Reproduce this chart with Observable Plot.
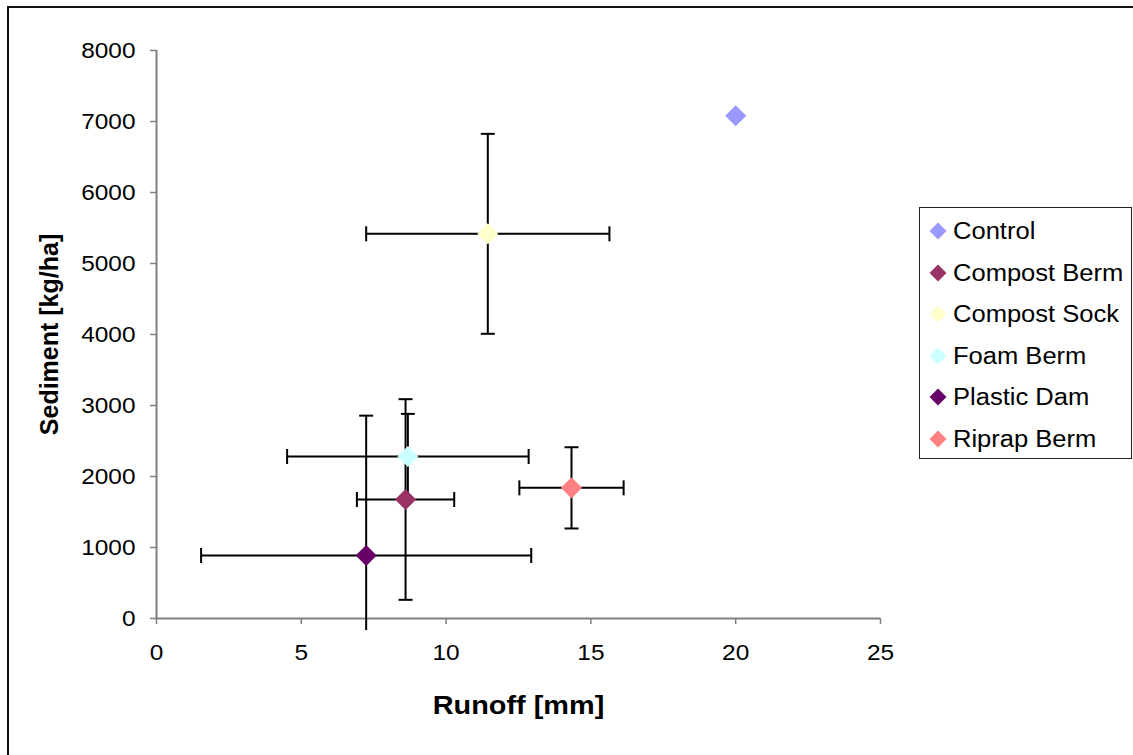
<!DOCTYPE html>
<html>
<head>
<meta charset="utf-8">
<script src="https://cdn.jsdelivr.net/npm/d3@7"></script>
<script src="https://cdn.jsdelivr.net/npm/@observablehq/plot@0.6"></script>
<style>
  html, body { margin: 0; padding: 0; background: #fff; }
  #wrap { position: relative; width: 1133px; height: 755px; overflow: hidden; font-family: "Liberation Sans", Arial, sans-serif; }
  #border { position: absolute; left: 7px; top: 6px; width: 1300px; height: 900px; border-left: 2px solid #111; border-top: 2px solid #111; }
  #chart { position: absolute; left: 0; top: 0; }
  #legend { position: absolute; left: 919px; top: 207px; width: 213px; height: 252px; border: 1px solid #222; box-sizing: border-box; background: #fff; }
  .item { position: absolute; left: 0; width: 220px; height: 30px; }
  .sw { position: absolute; left: 12px; top: 9px; width: 12px; height: 12px; transform: rotate(45deg); }
  .lbl { position: absolute; left: 33px; top: 0; line-height: 30px; font-size: 23px; color: #000; white-space: nowrap; transform: scaleX(1.11); transform-origin: left center; }
</style>
</head>
<body>
<div id="wrap">
  <div id="border"></div>
  <div id="chart"></div>
  <div id="legend"></div>
</div>
<script>
// ---- data ----
const series     = ["Control", "Compost Berm", "Compost Sock", "Foam Berm", "Plastic Dam", "Riprap Berm"];
const runoff     = [20.0, 8.6, 11.44, 8.68, 7.24, 14.33];      // mm
const sediment   = [7080, 1676, 5418, 2282, 887, 1840];        // kg/ha
const runoffErr  = [0, 1.68, 4.2, 4.17, 5.7, 1.8];             // ± mm
const sedimentErr= [0, 1413, 1408, 600, 1970, 572];            // ± kg/ha
const colors     = ["#9999FF", "#993366", "#FFFFCC", "#CCFFFF", "#660066", "#FF8080"];
const xTicks     = [0, 5, 10, 15, 20, 25];
const yTicks     = [0, 1000, 2000, 3000, 4000, 5000, 6000, 7000, 8000];
const xTitle     = "Runoff [mm]";
const yTitle     = "Sediment [kg/ha]";

const data = series.map((s, i) => ({
  series: s, x: runoff[i], y: sediment[i], ex: runoffErr[i], ey: sedimentErr[i], color: colors[i]
}));
const withErr = data.filter(d => d.ex > 0 || d.ey > 0);
const yFloor = -170; // error bars running below the axis are cut a little past it

const hCap = { draw(ctx) { ctx.moveTo(-7, 0); ctx.lineTo(7, 0); } };
const vCap = { draw(ctx) { ctx.moveTo(0, -7.5); ctx.lineTo(0, 7.5); } };

const topCaps    = withErr.map(d => ({ x: d.x, y: d.y + d.ey }));
const bottomCaps = withErr.map(d => ({ x: d.x, y: d.y - d.ey })).filter(d => d.y >= 0);
const leftCaps   = withErr.map(d => ({ x: d.x - d.ex, y: d.y }));
const rightCaps  = withErr.map(d => ({ x: d.x + d.ex, y: d.y }));

const axisGray = "#808080";

const plot = Plot.plot({
  width: 1133,
  height: 755,
  marginLeft: 156,
  marginRight: 253,
  marginTop: 50,
  marginBottom: 137,
  style: { fontFamily: "'Liberation Sans', Arial, sans-serif", background: "transparent", color: "#000" },
  x: { domain: [0, 25] },
  y: { domain: [0, 8000] },
  color: { type: "identity" },
  marks: [
    // axis lines
    Plot.ruleX([0], { stroke: axisGray, strokeWidth: 2 }),
    Plot.ruleY([0], { stroke: axisGray, strokeWidth: 2 }),
    Plot.axisY({ ticks: yTicks, tickFormat: d => String(d), tickSize: 6, tickPadding: 15, fontSize: 22,
                 stroke: axisGray, fill: "#000", strokeWidth: 1.5,
                 label: yTitle, labelAnchor: "center", labelArrow: "none", labelOffset: 116 }),
    Plot.axisX({ ticks: xTicks, tickFormat: d => String(d), tickSize: 6, tickPadding: 20, fontSize: 22,
                 stroke: axisGray, fill: "#000", strokeWidth: 1.5, label: null }),
    // error bars
    Plot.ruleX(withErr, { x: "x", y1: d => Math.max(d.y - d.ey, yFloor), y2: d => d.y + d.ey, stroke: "#000", strokeWidth: 2 }),
    Plot.ruleY(withErr, { y: "y", x1: d => d.x - d.ex, x2: d => d.x + d.ex, stroke: "#000", strokeWidth: 2 }),
    Plot.dot(topCaps,    { x: "x", y: "y", symbol: hCap, fill: "none", stroke: "#000", strokeWidth: 2 }),
    Plot.dot(bottomCaps, { x: "x", y: "y", symbol: hCap, fill: "none", stroke: "#000", strokeWidth: 2 }),
    Plot.dot(leftCaps,   { x: "x", y: "y", symbol: vCap, fill: "none", stroke: "#000", strokeWidth: 2 }),
    Plot.dot(rightCaps,  { x: "x", y: "y", symbol: vCap, fill: "none", stroke: "#000", strokeWidth: 2 }),
    // markers
    Plot.dot(data, { x: "x", y: "y", symbol: "diamond2", r: 9.5, fill: "color", stroke: "none" }),
    // x axis title
    Plot.text([xTitle], { text: d => d, frameAnchor: "bottom", dy: 95, fontSize: 26, fontWeight: "bold", fill: "#000" })
  ]
});
document.getElementById("chart").appendChild(plot);

// y-axis title styling (bold, larger)
plot.querySelectorAll("g[aria-label='y-axis label'] text").forEach(t => {
  t.setAttribute("font-weight", "bold");
  t.setAttribute("font-size", "25");
  t.setAttribute("fill", "#000");
});

// the reference is slightly stretched horizontally: widen horizontal text the same way
plot.querySelectorAll("text").forEach(t => {
  const own = t.getAttribute("transform") || "";
  const par = (t.parentNode && t.parentNode.getAttribute && t.parentNode.getAttribute("transform")) || "";
  if ((own + par).includes("rotate")) return;
  if (t.closest("g[aria-label='y-axis label']")) return;
  const len = t.getComputedTextLength();
  if (len > 0) {
    t.setAttribute("textLength", (len * 1.11).toFixed(1));
    t.setAttribute("lengthAdjust", "spacingAndGlyphs");
  }
});

// legend
const legend = document.getElementById("legend");
series.forEach((s, i) => {
  const item = document.createElement("div");
  item.className = "item";
  item.style.top = (8 + i * 41.6) + "px";
  const sw = document.createElement("div");
  sw.className = "sw";
  sw.style.background = colors[i];
  const lbl = document.createElement("div");
  lbl.className = "lbl";
  lbl.textContent = s;
  item.appendChild(sw);
  item.appendChild(lbl);
  legend.appendChild(item);
});
</script>
</body>
</html>
